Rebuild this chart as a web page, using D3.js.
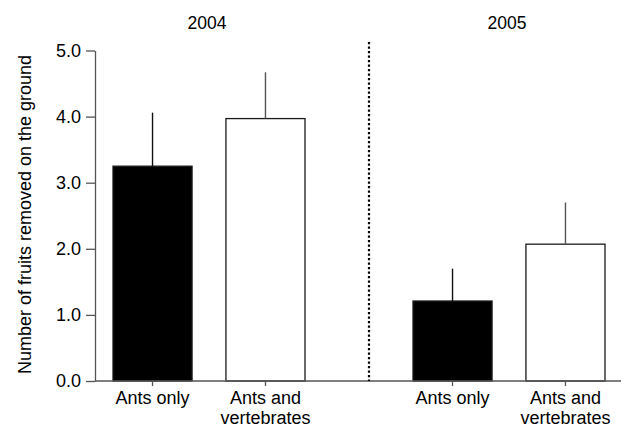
<!DOCTYPE html>
<html>
<head>
<meta charset="utf-8">
<script src="https://cdn.jsdelivr.net/npm/d3@7"></script>
<style>
  html, body { margin: 0; padding: 0; background: #fff; }
  svg { display: block; font-family: "Liberation Sans", Arial, Helvetica, sans-serif; }
</style>
</head>
<body>
<svg id="chart" width="621" height="427"></svg>
<script>
// Fruit removal on the ground, by year and exclusion treatment
const years = ["2004", "2005"];
const treatments = ["Ants only", "Ants and vertebrates"];
const treatmentLabels = [["Ants only"], ["Ants and", "vertebrates"]];
const means2004 = [3.25, 3.97];
const means2005 = [1.21, 2.07];
const upper2004 = [4.06, 4.67];
const upper2005 = [1.70, 2.70];
const yTicks = [0, 1, 2, 3, 4, 5];
const fills = ["#000000", "#ffffff"];

const rows = [];
years.forEach((yr, gi) => {
  const m = gi === 0 ? means2004 : means2005;
  const u = gi === 0 ? upper2004 : upper2005;
  treatments.forEach((t, ti) => rows.push({ year: yr, treatment: t, ti, mean: m[ti], upper: u[ti] }));
});

const svg = d3.select("#chart");
const axisX = 95, baseY = 381, topY = 50.5;
const fontSize = 18;

const y = d3.scaleLinear().domain([0, 5]).range([baseY, topY]);
const x0 = d3.scaleBand().domain(years).range([113, 605]).paddingInner(0.36).paddingOuter(0);
const x1 = d3.scaleBand().domain(treatments).range([0, x0.bandwidth()]).paddingInner(0.3).paddingOuter(0);

// Bars
svg.append("g").selectAll("rect").data(rows).join("rect")
  .attr("x", d => x0(d.year) + x1(d.treatment))
  .attr("y", d => y(d.mean))
  .attr("width", x1.bandwidth())
  .attr("height", d => y(0) - y(d.mean))
  .attr("fill", d => fills[d.ti])
  .attr("stroke", "#1a1a1a")
  .attr("stroke-width", 1.3);

// Upper error whiskers
svg.append("g").selectAll("line").data(rows).join("line")
  .attr("x1", d => x0(d.year) + x1(d.treatment) + x1.bandwidth() / 2)
  .attr("x2", d => x0(d.year) + x1(d.treatment) + x1.bandwidth() / 2)
  .attr("y1", d => y(d.mean))
  .attr("y2", d => y(d.upper))
  .attr("stroke", d => d.ti === 0 ? "#111" : "#555")
  .attr("stroke-width", 1.4);

// Y axis
const yAxis = d3.axisLeft(y).tickValues(yTicks).tickFormat(d3.format(".1f")).tickSize(9).tickSizeOuter(0).tickPadding(5);
const gy = svg.append("g").attr("transform", `translate(${axisX},0)`).call(yAxis);
gy.select(".domain").attr("stroke", "#555").attr("stroke-width", 1.3);
gy.selectAll(".tick line").attr("stroke", "#555").attr("stroke-width", 1.3);
gy.selectAll(".tick text").attr("font-size", fontSize).attr("fill", "#000")
  .attr("font-family", "Liberation Sans, Arial, sans-serif");

// X baseline
svg.append("line")
  .attr("x1", axisX).attr("x2", 621)
  .attr("y1", baseY).attr("y2", baseY)
  .attr("stroke", "#555").attr("stroke-width", 1.4);

// Category ticks and labels
const cat = svg.append("g").selectAll("g").data(rows).join("g")
  .attr("transform", d => `translate(${x0(d.year) + x1(d.treatment) + x1.bandwidth() / 2},${baseY})`);
cat.append("line").attr("y1", 0).attr("y2", 5).attr("stroke", "#555").attr("stroke-width", 1.3);
cat.each(function (d) {
  const t = d3.select(this).append("text")
    .attr("text-anchor", "middle").attr("font-size", fontSize).attr("fill", "#000");
  treatmentLabels[d.ti].forEach((ln, i) => {
    t.append("tspan").attr("x", 0).attr("y", 23 + i * 20).text(ln);
  });
});

// Year headings
svg.append("g").selectAll("text").data(years).join("text")
  .attr("x", d => x0(d) + x0.bandwidth() / 2 - 2)
  .attr("y", 28.5)
  .attr("text-anchor", "middle")
  .attr("font-size", 17.5)
  .attr("fill", "#000")
  .text(d => d);

// Dotted divider between years
const dividerX = x0("2005") - 44;
svg.append("line")
  .attr("x1", dividerX).attr("x2", dividerX)
  .attr("y1", 42).attr("y2", baseY)
  .attr("stroke", "#000")
  .attr("stroke-width", 2.2)
  .attr("stroke-dasharray", "2.2,2.3");

// Y axis title
svg.append("text")
  .attr("transform", `translate(31,214.5) rotate(-90)`)
  .attr("text-anchor", "middle")
  .attr("font-size", 18)
  .attr("fill", "#000")
  .text("Number of fruits removed on the ground");
</script>
</body>
</html>
